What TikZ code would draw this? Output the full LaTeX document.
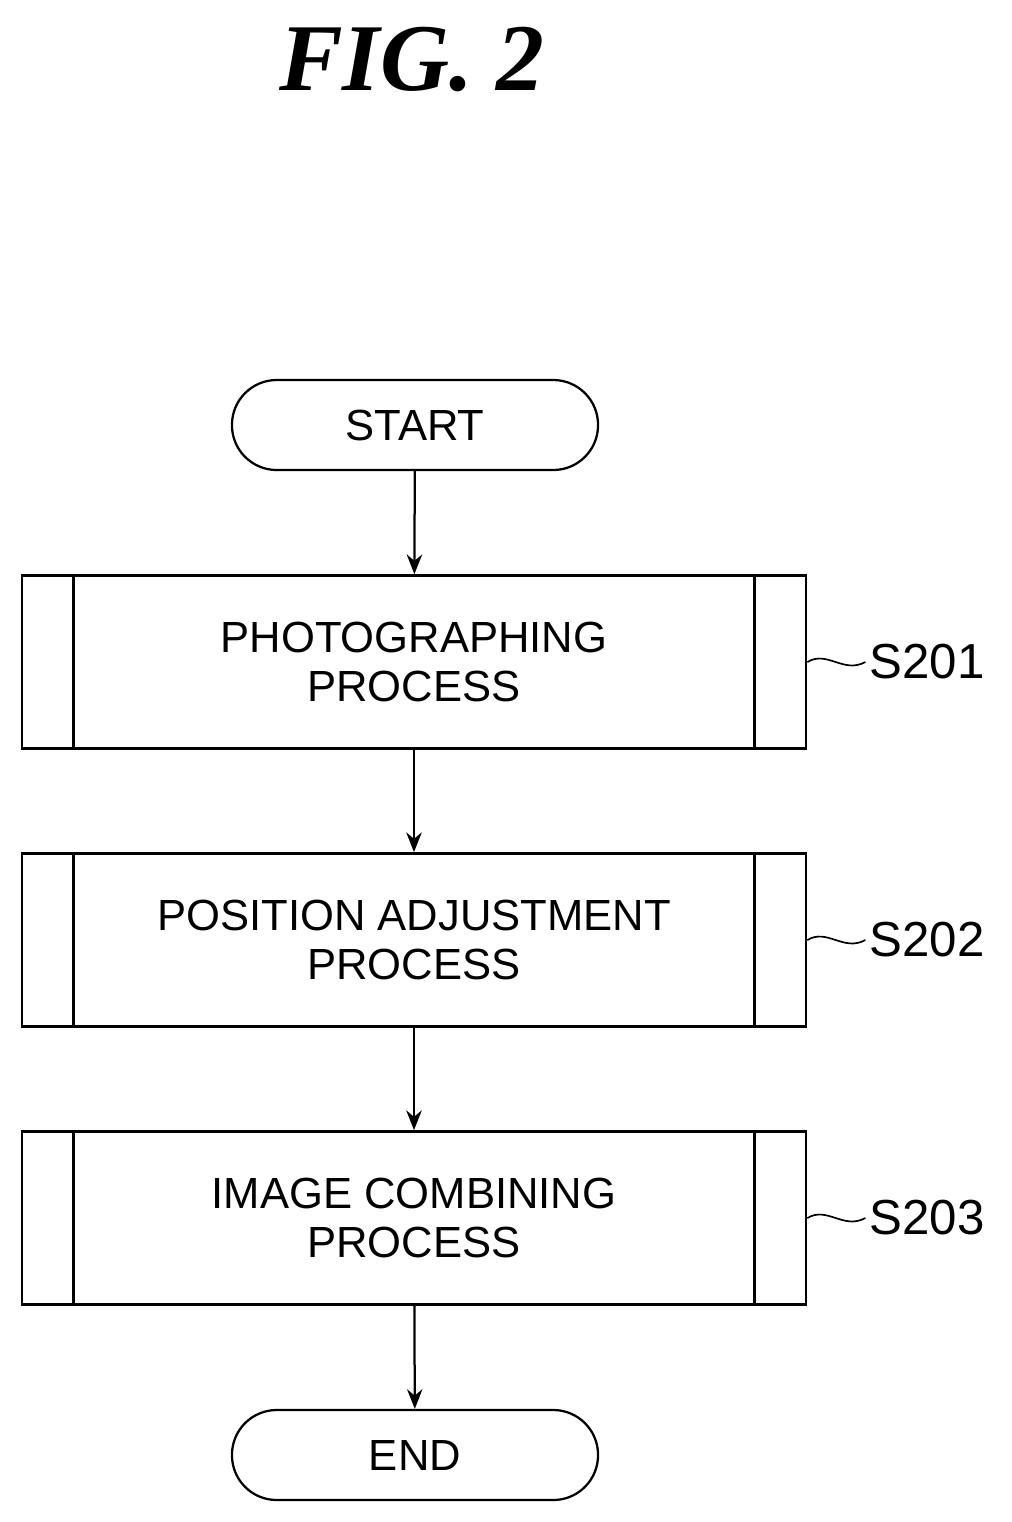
\documentclass[tikz,border=0pt]{standalone}
\usepackage{fontspec}
\setmainfont{Liberation Sans}
\newfontfamily\figfont{Liberation Serif}
\usetikzlibrary{positioning,arrows.meta}
\tikzset{
  terminal/.style={draw, line width=1.6pt, rounded corners=1.12cm, minimum width=9.15cm, minimum height=2.25cm, font=\fontsize{31}{35}\selectfont},
  subproc/.style={draw, line width=1.8pt, minimum width=19.6cm, minimum height=4.33cm, align=center, font=\fontsize{31}{35}\selectfont},
  flow/.style={line width=1.6pt, -{Stealth[length=14pt,width=11pt]}},
  steplabel/.style={right, inner sep=0pt, font=\fontsize{35}{35}\selectfont}
}
\begin{document}
\begin{tikzpicture}[x=0.025cm, y=-0.025cm]
    \useasboundingbox (0,0) rectangle (1012,1522);

    % Title
    \node (title) at (412,60) {\figfont\bfseries\itshape\fontsize{68}{74}\selectfont FIG. 2};

    % Terminals
    \node[terminal] (start) at (415,425) {START};
    \node[terminal] (end) at (415,1455) {END};

    % Process boxes
    \node[subproc] (s201) at (414,662) {PHOTOGRAPHING\\PROCESS};
    \node[subproc] (s202) at (414,940) {POSITION ADJUSTMENT\\PROCESS};
    \node[subproc] (s203) at (414,1218) {IMAGE COMBINING\\PROCESS};

    % Inner side bars and step labels
    \foreach \b/\t in {s201/S201,s202/S202,s203/S203} {
        \draw[line width=1.8pt] ([xshift=1.325cm]\b.north west) -- ([xshift=1.325cm]\b.south west);
        \draw[line width=1.8pt] ([xshift=-1.325cm]\b.north east) -- ([xshift=-1.325cm]\b.south east);
        \coordinate (\b w) at ([xshift=1.45cm]\b.east);
        \draw[line width=1.2pt] (\b.east) .. controls ([xshift=0.5cm,yshift=0.3cm]\b.east) and ([xshift=0.9cm,yshift=-0.3cm]\b.east) .. (\b w);
        \node[steplabel] at ([xshift=0.1cm]\b w) {\t};
    }

    % Connectors
    \draw[flow] (start) -- (s201);
    \draw[flow] (s201) -- (s202);
    \draw[flow] (s202) -- (s203);
    \draw[flow] (s203) -- (end);
\end{tikzpicture}
\end{document}
